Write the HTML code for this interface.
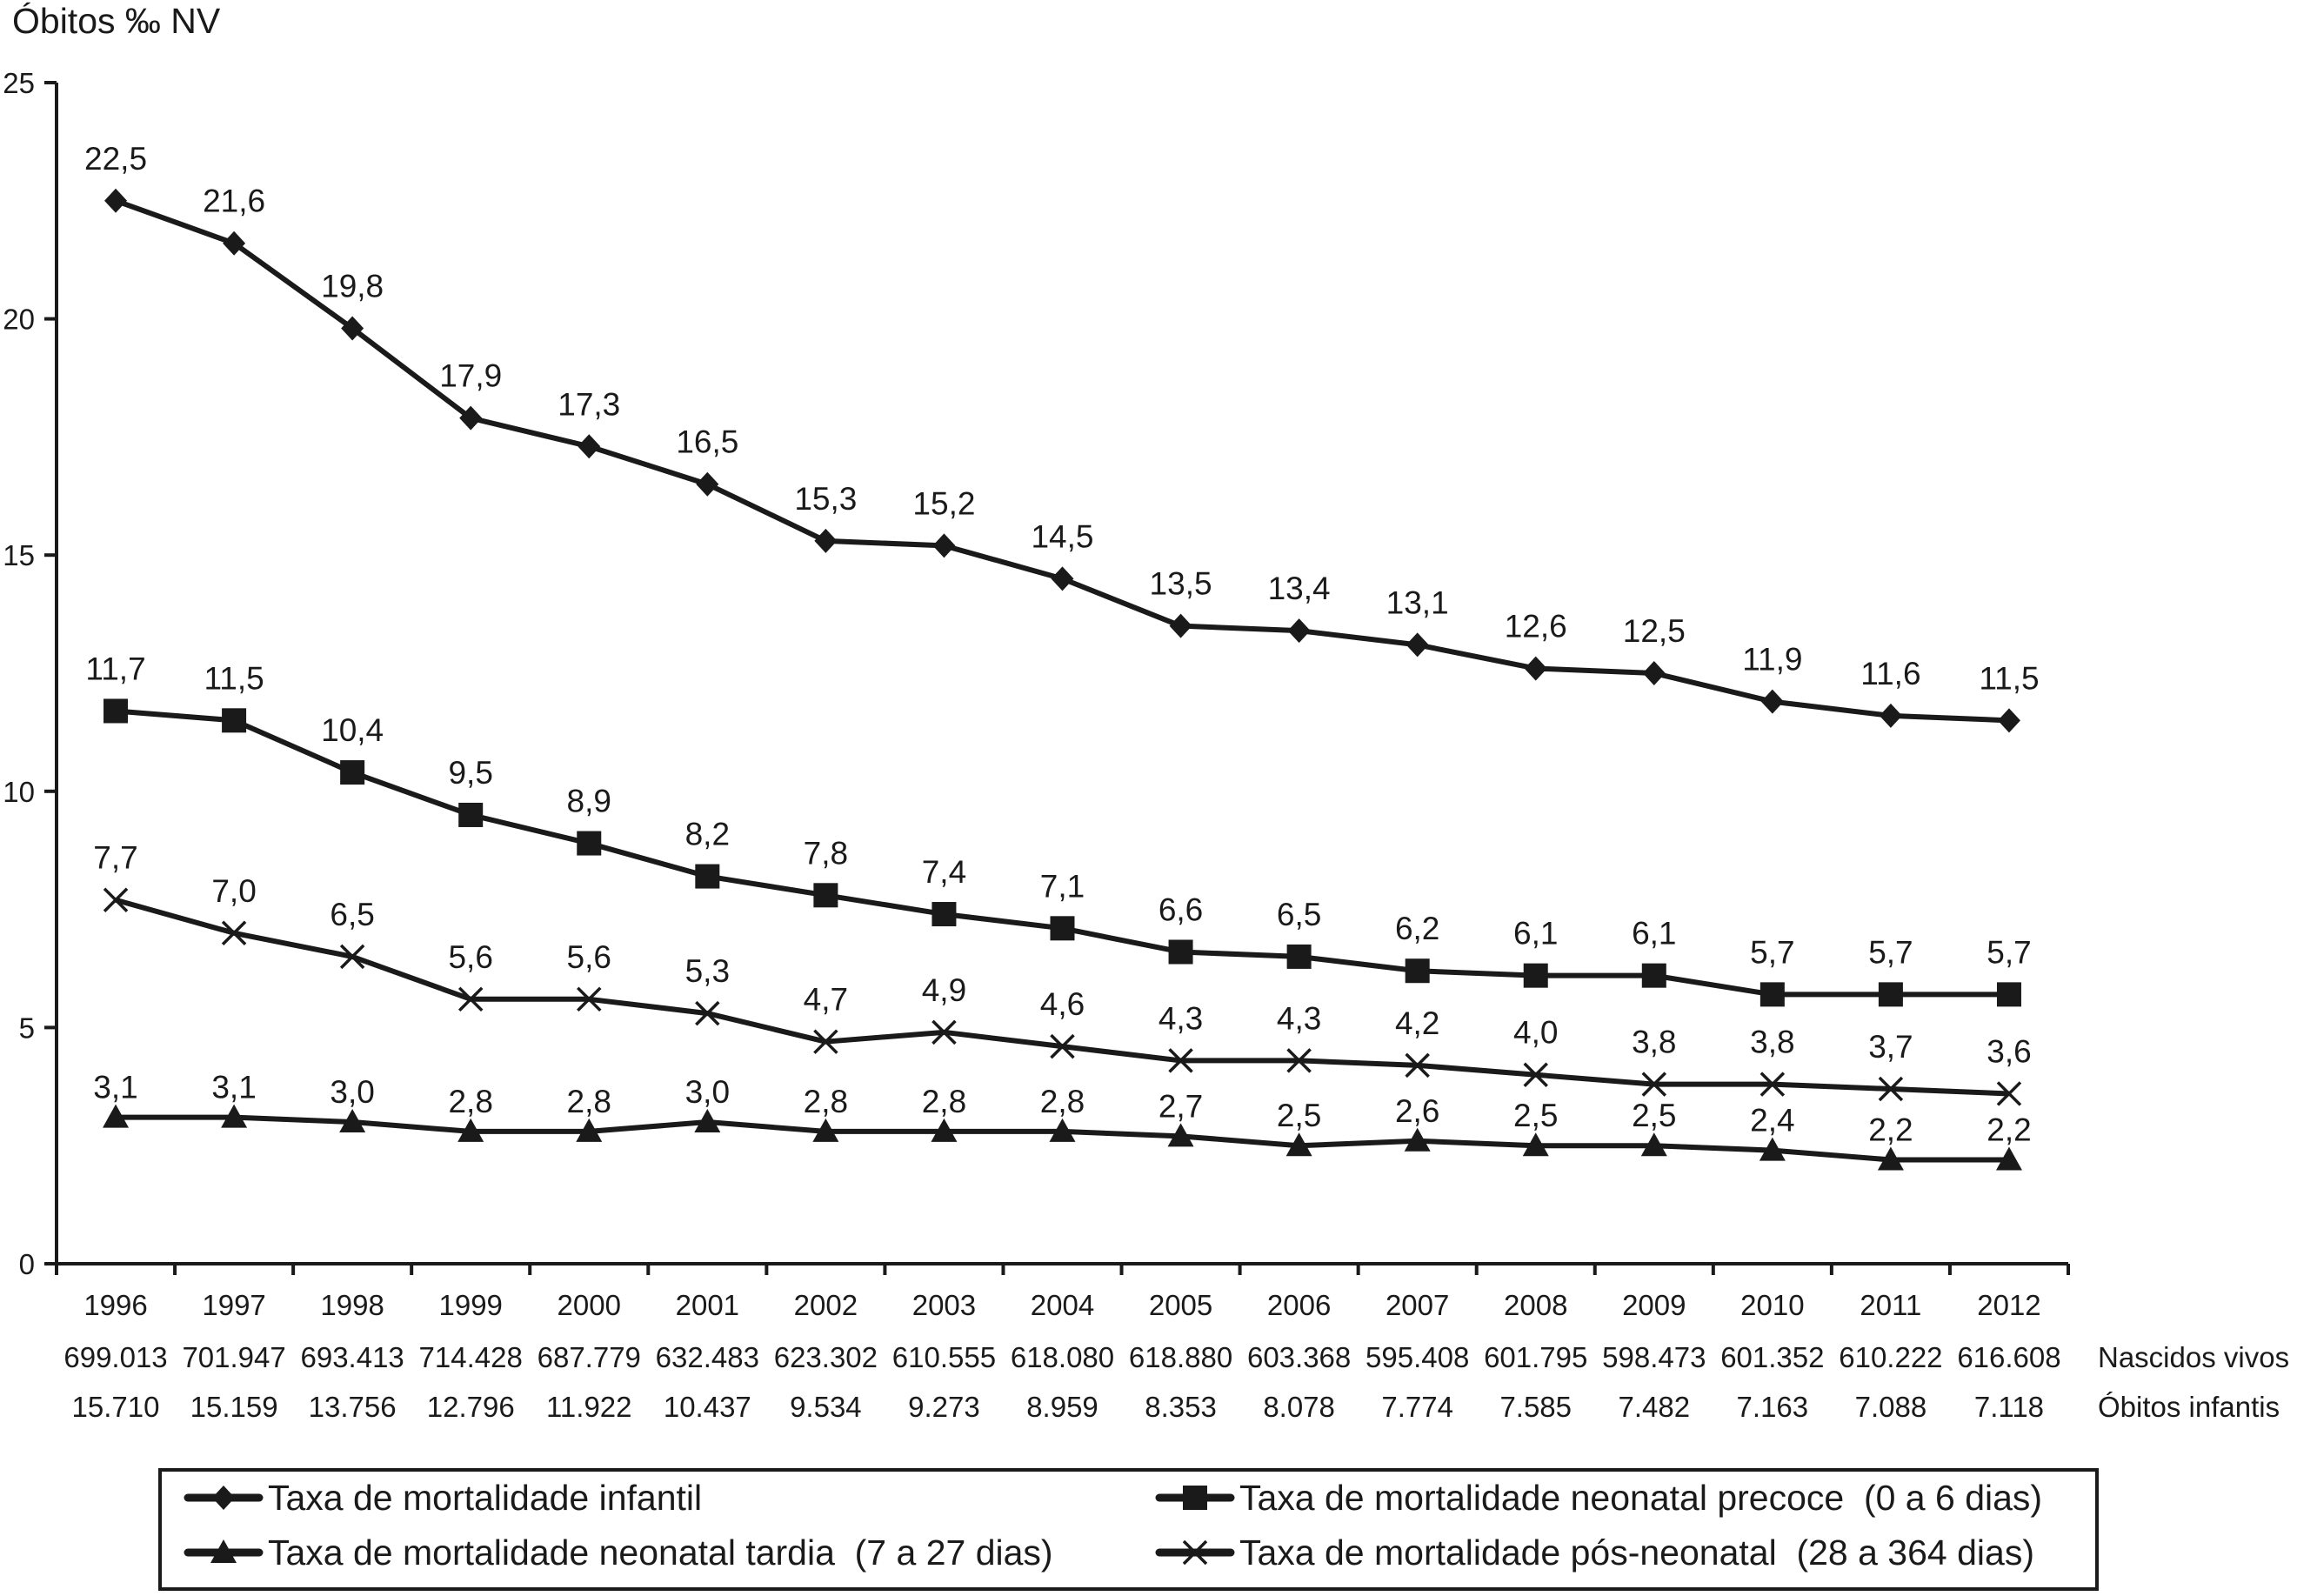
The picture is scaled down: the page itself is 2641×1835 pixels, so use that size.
<!DOCTYPE html>
<html><head><meta charset="utf-8"><style>
html,body{margin:0;padding:0;background:#fff;}
svg text{font-family:"Liberation Sans",Arial,sans-serif;fill:#1a1a1a;white-space:pre;}
</style></head><body>
<svg id="chart" width="2641" height="1830" viewBox="0 0 2641 1830" xmlns="http://www.w3.org/2000/svg">
<text x="14" y="38" font-size="41">Óbitos ‰ NV</text>
<g id="axes"></g><g id="series"></g><g id="table"></g>
<rect x="184" y="1690" width="2227" height="137" fill="none" stroke="#1a1a1a" stroke-width="4"/>
<g id="legend"></g>
</svg>
<script>
const years=["1996","1997","1998","1999","2000","2001","2002","2003","2004","2005","2006","2007","2008","2009","2010","2011","2012"];
const infantil=[22.5,21.6,19.8,17.9,17.3,16.5,15.3,15.2,14.5,13.5,13.4,13.1,12.6,12.5,11.9,11.6,11.5];
const precoce=[11.7,11.5,10.4,9.5,8.9,8.2,7.8,7.4,7.1,6.6,6.5,6.2,6.1,6.1,5.7,5.7,5.7];
const posNeonatal=[7.7,7.0,6.5,5.6,5.6,5.3,4.7,4.9,4.6,4.3,4.3,4.2,4.0,3.8,3.8,3.7,3.6];
const tardia=[3.1,3.1,3.0,2.8,2.8,3.0,2.8,2.8,2.8,2.7,2.5,2.6,2.5,2.5,2.4,2.2,2.2];
const nascidos=["699.013","701.947","693.413","714.428","687.779","632.483","623.302","610.555","618.080","618.880","603.368","595.408","601.795","598.473","601.352","610.222","616.608"];
const obitos=["15.710","15.159","13.756","12.796","11.922","10.437","9.534","9.273","8.959","8.353","8.078","7.774","7.585","7.482","7.163","7.088","7.118"];
const yTicks=[0,5,10,15,20,25];

const NS="http://www.w3.org/2000/svg";
const X0=65,X1=2378,Y0=1453,Y1=95,YMAX=25;
const step=(X1-X0)/years.length;
const xs=i=>X0+step*(i+0.5);
const ys=v=>Y0-(v/YMAX)*(Y0-Y1);
function mk(tag,attrs,parent,txt){const e=document.createElementNS(NS,tag);for(const k in attrs)e.setAttribute(k,attrs[k]);if(txt!==undefined)e.textContent=txt;parent.appendChild(e);return e;}
const axes=document.getElementById('axes');
let e=mk('line',{x1:X0,y1:Y1,x2:X0,y2:Y0,stroke:'#1a1a1a','stroke-width':4},axes);


e=mk('line',{x1:X0,y1:Y0,x2:X1,y2:Y0,stroke:'#1a1a1a','stroke-width':4},axes);


yTicks.forEach(v=>{
  e=mk('line',{x1:X0-14,y1:ys(v),x2:X0,y2:ys(v),stroke:'#1a1a1a','stroke-width':4},axes);
  
  
  e=mk('text',{x:40,y:ys(v)+12,'font-size':33,'text-anchor':'end'},axes,String(v));
  
  
});
for(let i=0;i<=years.length;i++){
  e=mk('line',{x1:X0+step*i,y1:Y0,x2:X0+step*i,y2:Y0+13,stroke:'#1a1a1a','stroke-width':4},axes);
  
  
}
const table=document.getElementById('table');
years.forEach((y,i)=>{
  e=mk('text',{x:xs(i),y:1512,'font-size':33,'text-anchor':'middle'},table,y);
  
  
  e=mk('text',{x:xs(i),y:1572,'font-size':33,'text-anchor':'middle'},table,nascidos[i]);
  
  
  e=mk('text',{x:xs(i),y:1629,'font-size':33,'text-anchor':'middle'},table,obitos[i]);
  
  
});
e=mk('text',{x:2412,y:1572,'font-size':33},table,'Nascidos vivos');


e=mk('text',{x:2412,y:1629,'font-size':33},table,'Óbitos infantis');



function marker(type,cx,cy,g){
  let m;
  if(type==='diamond') m=mk('polygon',{points:`${cx},${cy-14} ${cx+13},${cy} ${cx},${cy+14} ${cx-13},${cy}`,fill:'#1a1a1a'},g);
  else if(type==='square') m=mk('rect',{x:cx-14,y:cy-14,width:28,height:28,fill:'#1a1a1a'},g);
  else if(type==='triangle') m=mk('polygon',{points:`${cx},${cy-15} ${cx+15},${cy+12} ${cx-15},${cy+12}`,fill:'#1a1a1a'},g);
  else m=mk('path',{d:`M${cx-13},${cy-13}L${cx+13},${cy+13}M${cx+13},${cy-13}L${cx-13},${cy+13}`,stroke:'#1a1a1a','stroke-width':3.5,fill:'none'},g);
  return m;
}
const seriesG=document.getElementById('series');
const defs=[[infantil,'diamond','infantil'],[precoce,'square','precoce'],[posNeonatal,'x','pos-neonatal'],[tardia,'triangle','tardia']];
defs.forEach(([data,type,name])=>{
  const g=mk('g',{},seriesG);
  
  
  const p=mk('polyline',{points:data.map((v,i)=>xs(i)+','+ys(v)).join(' '),fill:'none',stroke:'#1a1a1a','stroke-width':6,'stroke-linejoin':'round'},g);
  
  
  data.forEach((v,i)=>{
    const m=marker(type,xs(i),ys(v),g);
    
    
    const t=mk('text',{x:xs(i),y:ys(v)-(type==='triangle'?22:36),'font-size':37,'text-anchor':'middle'},g,v.toFixed(1).replace('.',','));
    
    
  });
});
const legend=document.getElementById('legend');
const leg=[['diamond','Taxa de mortalidade infantil',216,1722],['square','Taxa de mortalidade neonatal precoce  (0 a 6 dias)',1333,1722],['triangle','Taxa de mortalidade neonatal tardia  (7 a 27 dias)',216,1785],['x','Taxa de mortalidade pós-neonatal  (28 a 364 dias)',1333,1785]];
leg.forEach(([type,label,x,y])=>{
  const g=mk('g',{},legend);
  
  
  mk('line',{x1:x,y1:y,x2:x+82,y2:y,stroke:'#1a1a1a','stroke-width':9,'stroke-linecap':'round'},g);
  marker(type,x+41,y,g);
  mk('text',{x:x+92,y:y+14,'font-size':41},g,label);
});
</script>
</body></html>
